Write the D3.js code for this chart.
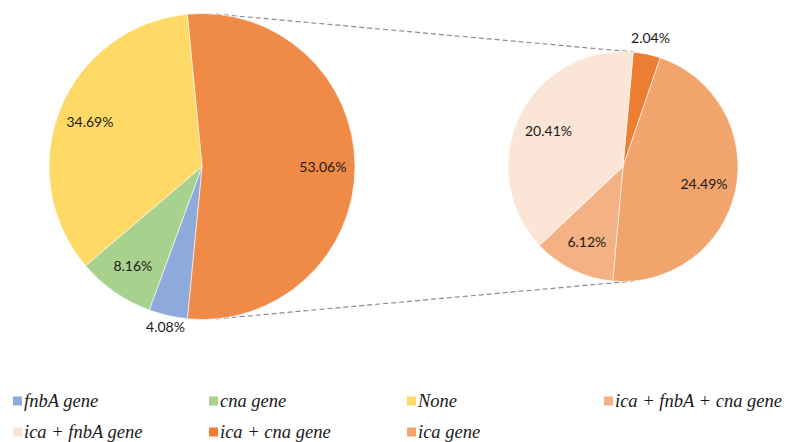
<!DOCTYPE html>
<html>
<head>
<meta charset="utf-8">
<script src="https://cdn.jsdelivr.net/npm/d3@7/dist/d3.min.js"></script>
<style>
  html, body { margin: 0; padding: 0; background: #fff; }
  svg { display: block; }
  .legend-text { font-family: "Liberation Serif", "DejaVu Serif", "Times New Roman", serif; font-style: italic; }
</style>
</head>
<body>
<svg id="chart" width="798" height="442"></svg>
<script>
// Gene profile shares (percent of isolates)
const mainCategories = ["ica genes (combined)", "fnbA gene", "cna gene", "None"];
const mainValues = [53.06, 4.08, 8.16, 34.69];
const mainColors = ["#F08A47", "#8EAADB", "#A9D18E", "#FFD966"];

const subCategories = ["ica + cna gene", "ica gene", "ica + fnbA + cna gene", "ica + fnbA gene"];
const subValues = [2.04, 24.49, 6.12, 20.41];
const subColors = ["#ED7D31", "#F2A46D", "#F4B183", "#FBE5D6"];

const legendLabels = ["fnbA gene", "cna gene", "None", "ica + fnbA + cna gene",
                      "ica + fnbA gene", "ica + cna gene", "ica gene"];
const legendColors = ["#8EAADB", "#A9D18E", "#FFD966", "#F4B183",
                      "#FBE5D6", "#ED7D31", "#F2A46D"];

const svg = d3.select("#chart");
const deg = Math.PI / 180;

const main = { cx: 202, cy: 166.5, r: 153 };
const sub = { cx: 623, cy: 166.5, r: 115 };

// Primary pie: the combined "ica" slice is centred on the 3 o'clock direction
const mainTotal = d3.sum(mainValues);
const otherSpan = mainValues[0] / mainTotal * 2 * Math.PI;
const mainStart = Math.PI / 2 - otherSpan / 2;

const mainPie = d3.pie().sort(null).value(d => d)
  .startAngle(mainStart).endAngle(mainStart + 2 * Math.PI);
const subPie = d3.pie().sort(null).value(d => d)
  .startAngle(5.1 * deg).endAngle(5.1 * deg + 2 * Math.PI);

function drawPie(cfg, values, colors, pie, inFrac, outPad) {
  const g = svg.append("g").attr("transform", `translate(${cfg.cx},${cfg.cy})`);
  const arc = d3.arc().innerRadius(0).outerRadius(cfg.r);
  const arcs = pie(values);
  const total = d3.sum(values);
  g.selectAll("path").data(arcs).join("path")
    .attr("d", arc)
    .attr("fill", (d, i) => colors[i])
    .attr("stroke", "#fff")
    .attr("stroke-width", 0.6);
  g.selectAll("text").data(arcs).join("text")
    .attr("transform", d => {
      const a = (d.startAngle + d.endAngle) / 2;
      const small = d.value / total < 0.05;
      const rr = small ? cfg.r + outPad : cfg.r * inFrac;
      return `translate(${Math.sin(a) * rr},${-Math.cos(a) * rr})`;
    })
    .attr("text-anchor", "middle")
    .attr("dominant-baseline", "central")
    .attr("font-family", "Lato, 'Open Sans', sans-serif")
    .attr("font-size", 14)
    .attr("fill", "#1a1a1a")
    .text(d => d3.format(".2f")(d.value) + "%");
}

// Connector lines: external tangents between the two pies
(function drawConnectors() {
  const d = sub.cx - main.cx;
  const phi = Math.asin((main.r - sub.r) / d);
  [-1, 1].forEach(s => {
    const a = s < 0 ? phi : Math.PI - phi;
    const x1 = main.cx + Math.sin(a) * main.r, y1 = main.cy - Math.cos(a) * main.r;
    const x2 = sub.cx + Math.sin(a) * sub.r, y2 = sub.cy - Math.cos(a) * sub.r;
    svg.append("line")
      .attr("x1", x1).attr("y1", y1).attr("x2", x2).attr("y2", y2)
      .attr("stroke", "#8c8c8c")
      .attr("stroke-width", 1.2)
      .attr("stroke-dasharray", "5,3");
  });
})();

drawPie(main, mainValues, mainColors, mainPie, 0.79, 11);
drawPie(sub, subValues, subColors, subPie, 0.72, 17);

// Legend: four columns, two rows
const colX = [13, 209, 407, 604];
const rowY = [401, 432];
const legend = svg.append("g");
legendLabels.forEach((lab, i) => {
  const x = colX[i % 4], y = rowY[Math.floor(i / 4)];
  legend.append("rect")
    .attr("x", x).attr("y", y - 4.5).attr("width", 9).attr("height", 9)
    .attr("fill", legendColors[i]);
  legend.append("text")
    .attr("class", "legend-text")
    .attr("x", x + 11).attr("y", y)
    .attr("dominant-baseline", "central")
    .attr("font-size", 18.5)
    .attr("fill", "#1a1a1a")
    .text(lab);
});
</script>
</body>
</html>
